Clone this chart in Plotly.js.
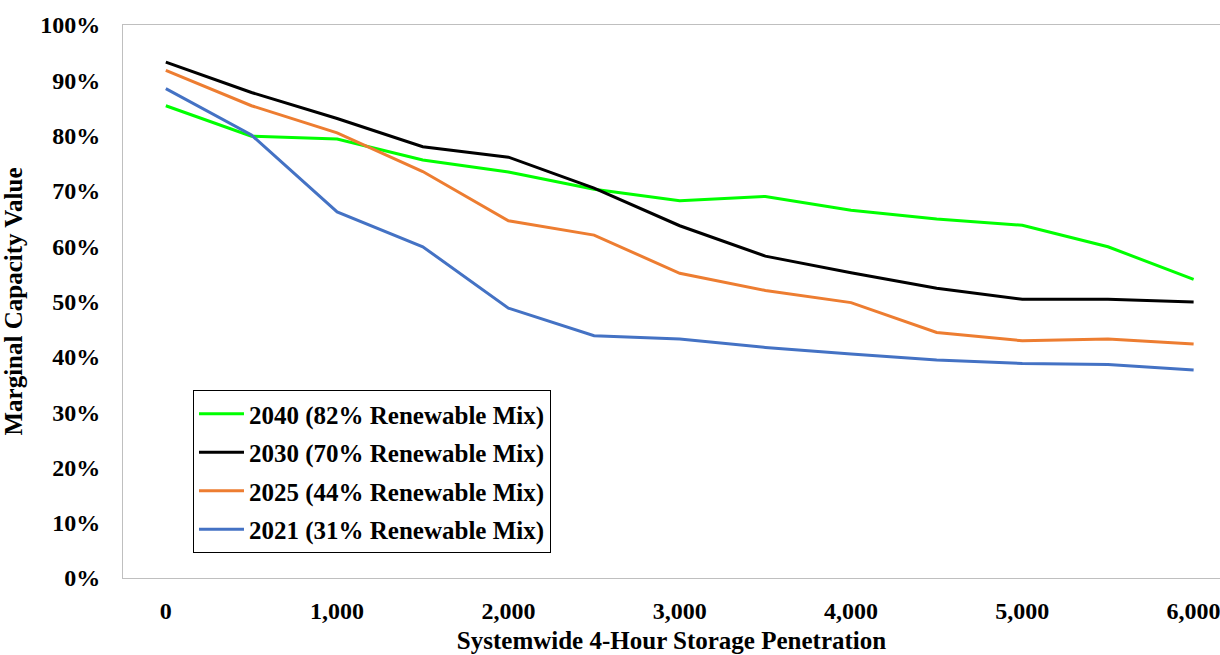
<!DOCTYPE html>
<html>
<head>
<meta charset="utf-8">
<script src="https://cdn.plot.ly/plotly-3.0.1.min.js"></script>
<style>html,body{margin:0;padding:0;background:#fff;}#chart{width:1220px;height:655px;}</style>
</head>
<body>
<div id="chart"></div>
<script>
const storageMW = [0, 500, 1000, 1500, 2000, 2500, 3000, 3500, 4000, 4500, 5000, 5500, 6000];
const seriesNames = ["2040 (82% Renewable Mix)", "2030 (70% Renewable Mix)", "2025 (44% Renewable Mix)", "2021 (31% Renewable Mix)"];
const v2040 = [0.854, 0.799, 0.794, 0.756, 0.734, 0.703, 0.682, 0.690, 0.665, 0.649, 0.638, 0.599, 0.540];
const v2030 = [0.933, 0.878, 0.831, 0.780, 0.761, 0.705, 0.637, 0.582, 0.552, 0.524, 0.504, 0.504, 0.499];
const v2025 = [0.918, 0.854, 0.805, 0.735, 0.646, 0.620, 0.551, 0.520, 0.498, 0.444, 0.429, 0.432, 0.423];
const v2021 = [0.885, 0.801, 0.662, 0.599, 0.488, 0.438, 0.432, 0.417, 0.405, 0.394, 0.388, 0.386, 0.376];
const colors = ["#00ff00", "#000000", "#ed7d31", "#4472c4"];
const xTicks = [0, 1000, 2000, 3000, 4000, 5000, 6000];
const yTicks = [0, 0.1, 0.2, 0.3, 0.4, 0.5, 0.6, 0.7, 0.8, 0.9, 1.0];
const xTitle = "Systemwide 4-Hour Storage Penetration";
const yTitle = "Marginal Capacity Value";

const allValues = [v2040, v2030, v2025, v2021];
const traces = allValues.map((vals, i) => ({
  type: "scatter",
  mode: "lines",
  x: storageMW,
  y: vals,
  name: seriesNames[i],
  legendgroup: "g" + i,
  line: {color: colors[i], width: 3}
}));

const fam = "'Liberation Serif', 'Times New Roman', serif";
const tickFont = {family: fam, size: 24, color: "#000", weight: "bold"};
const bigFont = {family: fam, size: 25, color: "#000", weight: "bold"};

const layout = {
  width: 1220, height: 655,
  margin: {l: 123, r: 0, t: 25, b: 77},
  paper_bgcolor: "#fff",
  plot_bgcolor: "#fff",
  font: {family: fam, size: 24, color: "#000"},
  showlegend: true,
  legend: {
    x: 0.0638, y: 0.045, xanchor: "left", yanchor: "bottom",
    bordercolor: "#000", borderwidth: 1, bgcolor: "#fff",
    font: bigFont,
    itemwidth: 45,
    tracegroupgap: 3
  },
  xaxis: {
    range: [-250, 6154],
    tickvals: xTicks,
    tickformat: ",d",
    ticks: "",
    showgrid: false, zeroline: false,
    showline: true, linecolor: "#bfbfbf", linewidth: 1, mirror: true,
    ticklabelstandoff: 11,
    ticklabeloverflow: "allow",
    tickfont: tickFont,
    title: {text: xTitle, standoff: 8, font: bigFont}
  },
  yaxis: {
    range: [0, 1],
    tickvals: yTicks,
    tickformat: ".0%",
    ticks: "",
    showgrid: false, zeroline: false,
    showline: true, linecolor: "#bfbfbf", linewidth: 1, mirror: true,
    ticklabelstandoff: 17,
    tickfont: tickFont,
    title: {text: yTitle, standoff: 10, font: bigFont}
  }
};

Plotly.newPlot("chart", traces, layout, {displayModeBar: false, staticPlot: true});
</script>
</body>
</html>
